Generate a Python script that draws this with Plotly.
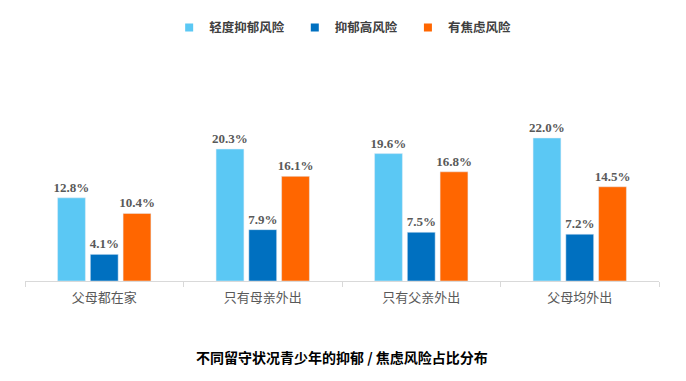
import plotly.graph_objects as go

categories = ["父母都在家", "只有母亲外出", "只有父亲外出", "父母均外出"]
series_names = ["轻度抑郁风险", "抑郁高风险", "有焦虑风险"]
mild_depression = [12.8, 20.3, 19.6, 22.0]
high_depression = [4.1, 7.9, 7.5, 7.2]
anxiety = [10.4, 16.1, 16.8, 14.5]
colors = ["#5BC8F4", "#0070C0", "#FF6600"]
title_text = "不同留守状况青少年的抑郁 / 焦虑风险占比分布"

CJK = "Noto Sans CJK SC"
fig = go.Figure()
for name, vals, col in zip(series_names, [mild_depression, high_depression, anxiety], colors):
    fig.add_trace(go.Bar(
        x=categories, y=vals, name=name, marker_color=col, showlegend=False,
        text=[f"<b>{v:.1f}%</b>" for v in vals], textposition="outside",
        constraintext="none",
        textfont=dict(family="Liberation Serif", size=13, color="#595959"),
        cliponaxis=False,
    ))
    fig.add_trace(go.Scatter(
        x=[None], y=[None], mode="markers", name=f"<b>{name}</b>  ",
        marker=dict(symbol="square", size=8, color=col),
    ))

# page body has an 8px default margin, so the figure is sized/offset to compensate
fig.update_layout(
    width=678, height=373,
    margin=dict(l=17, r=27, t=52, b=100, autoexpand=False),
    paper_bgcolor="white", plot_bgcolor="white",
    barmode="group", bargap=0.38, bargroupgap=0.15,
    legend=dict(orientation="h", x=0.505, xanchor="center", y=1.145, yanchor="middle",
                font=dict(family=CJK, size=12.5, color="#404040"),
                itemwidth=30, tracegroupgap=0),
    xaxis=dict(showline=True, linecolor="#D9D9D9", linewidth=1,
               ticks="outside", tickson="boundaries", ticklen=5, tickcolor="#D9D9D9",
               ticklabelstandoff=4,
               tickfont=dict(family=CJK, size=13, color="#595959"),
               showgrid=False, zeroline=False),
    yaxis=dict(visible=False, range=[0, 34], showgrid=False, zeroline=False),
    annotations=[dict(text=f"<b>{title_text}</b>", xref="paper", yref="paper",
                      x=0.5, y=-0.344, xanchor="center", yanchor="middle",
                      showarrow=False, font=dict(family=CJK, size=14, color="#000000"))],
)
fig.write_html("out.html")
